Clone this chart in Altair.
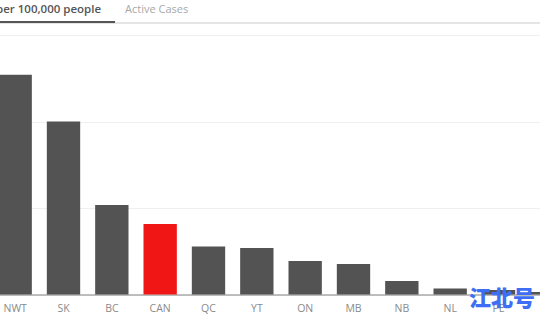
import altair as alt
import pandas as pd

regions = ["NWT", "SK", "BC", "CAN", "QC", "YT", "ON", "MB", "NB", "NL", "PE", "NS"]
values = [127, 100, 51.7, 40.8, 27.7, 26.9, 19.4, 17.6, 7.8, 3.5, 2.6, 1.5]
highlight = "CAN"
tabs = ["per 100,000 people", "Active Cases"]
watermark = ["江北号"]

df = pd.DataFrame({"region": regions, "value": values})
df["group"] = ["hl" if r == highlight else "other" for r in regions]

bars = alt.Chart(df).mark_bar().encode(
    x=alt.X(
        "region:N",
        sort=regions,
        scale=alt.Scale(range=[-9, 571], paddingInner=0.31, paddingOuter=0.155),
        axis=alt.Axis(
            title=None, labelAngle=0, ticks=False, domainColor="#aaaaaa",
            domainWidth=1.5, labelColor="#8a8a8a", labelFontSize=10.5,
            labelFont="Open Sans", labelPadding=9, labelOverlap=False,
        ),
    ),
    y=alt.Y(
        "value:Q",
        scale=alt.Scale(domain=[0, 150]),
        axis=alt.Axis(
            title=None, labels=False, ticks=False, domain=False,
            values=[0, 50, 100, 150], gridColor="#efefef",
        ),
    ),
    color=alt.Color(
        "group:N",
        scale=alt.Scale(domain=["hl", "other"], range=["#f01616", "#535353"]),
        legend=None,
    ),
)

tab_active = alt.Chart(pd.DataFrame({"t": [tabs[0]]})).mark_text(
    align="left", baseline="alphabetic", font="Open Sans", fontSize=11.5,
    fontWeight=600, color="#555555",
).encode(text="t:N", x=alt.value(-4), y=alt.value(-22))

tab_other = alt.Chart(pd.DataFrame({"t": [tabs[1]]})).mark_text(
    align="left", baseline="alphabetic", font="Open Sans", fontSize=11,
    color="#a8a8a8",
).encode(text="t:N", x=alt.value(125), y=alt.value(-22))

sep_line = alt.Chart(pd.DataFrame({"a": [0]})).mark_rule(
    color="#dddddd", strokeWidth=1.5
).encode(x=alt.value(0), x2=alt.value(540), y=alt.value(-12))

underline = alt.Chart(pd.DataFrame({"a": [0]})).mark_rule(
    color="#555555", strokeWidth=2
).encode(x=alt.value(0), x2=alt.value(115), y=alt.value(-13))

wm = alt.Chart(pd.DataFrame({"t": watermark})).mark_text(
    align="center", baseline="middle", font="Noto Sans CJK SC",
    fontSize=22, fontWeight=900, color="#3d6ef5",
).encode(text="t:N", x=alt.value(502), y=alt.value(264))

chart = alt.layer(bars, sep_line, underline, tab_active, tab_other, wm).properties(
    width=540,
    height=259.5,
    autosize=alt.AutoSizeParams(type="none"),
    padding={"left": 0, "top": 35, "right": 0, "bottom": 25},
    background="white",
).configure_view(stroke=None)

chart.save("out.html", embed_options={"renderer": "svg", "actions": False})
